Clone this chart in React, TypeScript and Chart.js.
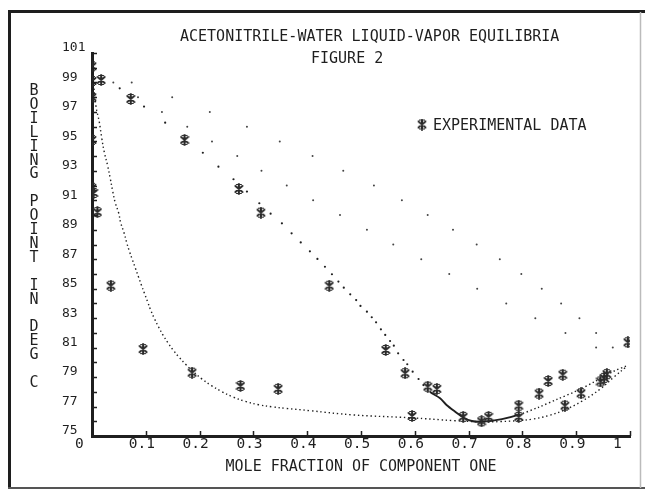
import React, { useEffect, useRef } from 'react';
import { Chart, registerables } from 'chart.js';

Chart.register(...registerables);

const TITLE = 'ACETONITRILE-WATER LIQUID-VAPOR EQUILIBRIA';
const SUBTITLE = 'FIGURE 2';
const X_TITLE = 'MOLE FRACTION OF COMPONENT ONE';
const Y_TITLE = ['B', 'O', 'I', 'L', 'I', 'N', 'G', '', 'P', 'O', 'I', 'N', 'T', '', 'I', 'N', '', 'D', 'E', 'G', '', 'C'];
const LEGEND_LABEL = 'EXPERIMENTAL DATA';

const X_MIN = 0;
const X_MAX = 1;
const X_STEP = 0.1;
const Y_MIN = 75;
const Y_MAX = 101;
const Y_STEP = 1;

// experimental data (stars)
const expX = [0.0, 0.0, 0.017, 0.0, 0.072, 0.0, 0.172, 0.0, 0.003, 0.01, 0.273, 0.314, 0.035, 0.095, 0.186, 0.276, 0.346, 0.441, 0.546, 0.582, 0.624, 0.641, 0.595, 0.69, 0.724, 0.737, 0.793, 0.793, 0.831, 0.848, 0.875, 0.879, 0.909, 0.945, 0.952, 0.957, 0.996];
const expT = [100.1, 99.1, 99.17, 98.0, 97.88, 95.1, 95.1, 91.85, 91.5, 90.2, 91.77, 90.16, 85.2, 80.9, 79.3, 78.4, 78.2, 85.2, 80.84, 79.26, 78.35, 78.2, 76.36, 76.3, 76.0, 76.3, 77.06, 76.3, 77.88, 78.73, 79.16, 77.06, 77.9, 78.7, 78.95, 79.2, 81.36];

// dew (vapour) curve
const vapX = [0, 0.0515, 0.0967, 0.136, 0.172, 0.206, 0.235, 0.263, 0.288, 0.311, 0.332, 0.353, 0.371, 0.388, 0.405, 0.419, 0.433, 0.446, 0.458, 0.468, 0.48, 0.491, 0.499, 0.511, 0.52, 0.528, 0.537, 0.545, 0.554, 0.561, 0.569, 0.579, 0.586, 0.596, 0.607, 0.616, 0.628, 0.647, 0.659, 0.675, 0.691, 0.706, 0.724, 0.762, 0.794, 0.83, 0.865, 0.9, 0.935, 0.97, 0.993];
const vapT = [100, 98.6, 97.36, 96.27, 95.1, 94.23, 93.28, 92.43, 91.59, 90.8, 90.09, 89.44, 88.76, 88.14, 87.54, 87.02, 86.49, 85.98, 85.48, 85.07, 84.62, 84.23, 83.83, 83.44, 83.06, 82.72, 82.24, 81.86, 81.45, 81.13, 80.61, 80.16, 79.87, 79.37, 78.87, 78.46, 78.0, 77.56, 77.1, 76.65, 76.24, 76.02, 75.97, 76.15, 76.45, 76.95, 77.5, 78.05, 78.7, 79.4, 79.75];

// bubble (liquid) curve
const liqX = [0, 0.0074, 0.0136, 0.018, 0.0229, 0.0292, 0.034, 0.0385, 0.0433, 0.0496, 0.0533, 0.0595, 0.0645, 0.0693, 0.0752, 0.0808, 0.0862, 0.0918, 0.0975, 0.1035, 0.109, 0.116, 0.124, 0.132, 0.141, 0.151, 0.162, 0.174, 0.188, 0.204, 0.222, 0.242, 0.262, 0.285, 0.31, 0.335, 0.362, 0.405, 0.486, 0.591, 0.675, 0.724, 0.76, 0.793, 0.82, 0.85, 0.877, 0.91, 0.945, 0.97, 0.993];
const liqT = [100, 97.4, 96.3, 95.25, 94.26, 93.33, 92.47, 91.61, 90.82, 90.14, 89.48, 88.8, 88.12, 87.56, 86.95, 86.38, 85.82, 85.25, 84.68, 84.1, 83.55, 82.97, 82.38, 81.85, 81.33, 80.83, 80.34, 79.87, 79.38, 78.88, 78.42, 78.0, 77.65, 77.35, 77.12, 76.98, 76.87, 76.72, 76.43, 76.24, 76.04, 75.97, 75.98, 76.05, 76.15, 76.4, 76.75, 77.35, 78.2, 79.0, 79.7];

// sparse dotted curves (one dot per degree)
const upperT = [100, 99, 98, 97, 96, 95, 94, 93, 92, 91, 90, 89, 88, 87, 86, 85, 84, 83, 82, 81];
const upperX = [0, 0.0738, 0.149, 0.219, 0.288, 0.349, 0.41, 0.467, 0.524, 0.576, 0.624, 0.671, 0.715, 0.758, 0.798, 0.836, 0.872, 0.906, 0.937, 0.968];
const middleT = [100, 99, 98, 97, 96, 95, 94, 93, 92, 91, 90, 89, 88, 87, 86, 85, 84, 83, 82, 81];
const middleX = [0, 0.0396, 0.0855, 0.13, 0.177, 0.223, 0.27, 0.315, 0.362, 0.411, 0.461, 0.511, 0.56, 0.612, 0.664, 0.716, 0.77, 0.824, 0.88, 0.937];

const INK = '#1f1f1f';
const FONT = '"DejaVu Sans Mono", "Liberation Mono", monospace';

const pts = (xs: number[], ys: number[]) => xs.map((x, i) => ({ x, y: ys[i] }));

function makeStar(): HTMLCanvasElement {
  const c = document.createElement('canvas');
  c.width = 10;
  c.height = 12;
  const g = c.getContext('2d')!;
  g.strokeStyle = '#2a2a2a';
  g.lineCap = 'round';
  g.lineWidth = 2;
  g.beginPath();
  g.moveTo(5, 1);
  g.lineTo(5, 11);
  g.moveTo(1.5, 3);
  g.lineTo(8.5, 9);
  g.moveTo(8.5, 3);
  g.lineTo(1.5, 9);
  g.stroke();
  g.lineWidth = 1.2;
  g.beginPath();
  g.moveTo(2.5, 1.5);
  g.lineTo(7.5, 1.5);
  g.moveTo(2.5, 10.5);
  g.lineTo(7.5, 10.5);
  g.stroke();
  return c;
}

export default function App() {
  const ref = useRef<HTMLCanvasElement | null>(null);

  useEffect(() => {
    if (!ref.current) return;
    const star = makeStar();

    const decor = {
      id: 'decor',
      beforeDraw(chart: any) {
        const { ctx, width, height } = chart;
        ctx.save();
        ctx.fillStyle = '#ffffff';
        ctx.fillRect(0, 0, width, height);
        ctx.strokeStyle = '#1e1e1e';
        ctx.lineWidth = 3;
        ctx.beginPath();
        ctx.moveTo(8, 11.5);
        ctx.lineTo(645, 11.5);
        ctx.moveTo(9.5, 10);
        ctx.lineTo(9.5, 489);
        ctx.stroke();
        ctx.lineWidth = 2;
        ctx.strokeStyle = '#555';
        ctx.beginPath();
        ctx.moveTo(8, 488);
        ctx.lineTo(645, 488);
        ctx.stroke();
        ctx.lineWidth = 1.5;
        ctx.strokeStyle = '#bbb';
        ctx.beginPath();
        ctx.moveTo(640.5, 12);
        ctx.lineTo(640.5, 488);
        ctx.stroke();
        ctx.restore();
      },
      afterDraw(chart: any) {
        const { ctx } = chart;
        const xs = chart.scales.x;
        const ys = chart.scales.y;
        ctx.save();
        ctx.strokeStyle = INK;
        ctx.lineWidth = 1.5;
        ctx.beginPath();
        ys.ticks.forEach((t: any) => {
          const py = Math.round(ys.getPixelForValue(t.value)) + 0.5;
          ctx.moveTo(xs.left, py);
          ctx.lineTo(xs.left + 5, py);
        });
        xs.ticks.forEach((t: any) => {
          const px = Math.round(xs.getPixelForValue(t.value)) + 0.5;
          ctx.moveTo(px, ys.bottom);
          ctx.lineTo(px, ys.bottom - 5);
        });
        ctx.stroke();

        ctx.fillStyle = INK;
        ctx.textBaseline = 'alphabetic';
        ctx.textAlign = 'left';
        ctx.font = `15px ${FONT}`;
        ctx.fillText(TITLE, 180, 40.5);
        ctx.fillText(SUBTITLE, 311, 62.5);
        const label = chart.data.datasets[0].label;
        ctx.drawImage(star, 422 - star.width / 2, 124.5 - star.height / 2);
        ctx.fillText(label, 433, 129.5);
        ctx.textAlign = 'center';
        Y_TITLE.forEach((ch, i) => {
          if (ch) ctx.fillText(ch, 34, 95 + i * 13.9);
        });
        ctx.restore();
      },
    };

    const chart = new Chart(ref.current, {
      type: 'scatter',
      data: {
        datasets: [
          {
            label: LEGEND_LABEL,
            data: pts(expX, expT),
            pointStyle: star as any,
            pointRadius: 5,
            showLine: false,
          },
          {
            label: 'DEW CURVE',
            data: pts(vapX, vapT),
            showLine: true,
            tension: 0.3,
            borderColor: INK,
            borderWidth: 1.8,
            pointRadius: (c: any) => (vapX[c.dataIndex] < 0.62 ? 1.1 : 0),
            pointBackgroundColor: INK,
            pointBorderWidth: 0,
            segment: {
              borderColor: (c: any) => (c.p0.parsed.x < 0.62 ? 'rgba(0,0,0,0)' : INK),
              borderDash: (c: any) => (c.p0.parsed.x >= 0.79 ? [1.4, 2.6] : undefined),
              borderWidth: (c: any) => (c.p0.parsed.x >= 0.79 ? 1.4 : 1.9),
            },
          } as any,
          {
            label: 'BUBBLE CURVE',
            data: pts(liqX, liqT),
            showLine: true,
            tension: 0.4,
            borderColor: INK,
            borderWidth: 1.4,
            borderDash: [1.4, 2.8],
            pointRadius: 0,
          } as any,
          {
            label: 'UPPER',
            data: pts(upperX, upperT),
            showLine: false,
            pointRadius: 1,
            pointBorderWidth: 0,
            pointBackgroundColor: '#444',
          },
          {
            label: 'MIDDLE',
            data: pts(middleX, middleT),
            showLine: false,
            pointRadius: 1,
            pointBorderWidth: 0,
            pointBackgroundColor: '#444',
          },
        ],
      },
      options: {
        animation: false,
        responsive: false,
        devicePixelRatio: 1,
        layout: { padding: { left: 62, right: 15, top: 53, bottom: 12 } },
        plugins: {
          legend: { display: false },
          tooltip: { enabled: false },
          title: { display: false },
        },
        scales: {
          x: {
            type: 'linear',
            position: 'bottom',
            min: X_MIN,
            max: X_MAX,
            grid: { display: false, drawTicks: false },
            border: { display: true, width: 3, color: INK },
            ticks: {
              stepSize: X_STEP,
              autoSkip: false,
              maxRotation: 0,
              align: 'start',
              labelOffset: -17,
              padding: 0,
              color: INK,
              font: { family: FONT, size: 14.5 },
              callback: (v: any) => {
                const n = Number(v);
                if (Math.abs(n) < 1e-9) return '0';
                if (Math.abs(n - 1) < 1e-9) return '1';
                return n.toFixed(1);
              },
            },
            title: {
              display: true,
              text: X_TITLE,
              color: INK,
              font: { family: FONT, size: 15 },
              padding: { top: 0, bottom: 4 },
            },
            afterFit: (s: any) => {
              s.height = 44;
            },
          },
          y: {
            type: 'linear',
            min: Y_MIN,
            max: Y_MAX,
            grid: { display: false, drawTicks: false },
            border: { display: true, width: 3, color: INK },
            ticks: {
              stepSize: Y_STEP,
              autoSkip: false,
              crossAlign: 'far',
              labelOffset: -5,
              padding: 0,
              color: INK,
              font: { family: FONT, size: 13 },
              callback: (v: any) => {
                const n = Math.round(Number(v));
                return (n - Y_MIN) % 2 === 0 ? String(n) : '';
              },
            },
            afterFit: (s: any) => {
              s.width = 30;
            },
          },
        },
      } as any,
      plugins: [decor],
    });
    return () => chart.destroy();
  }, []);

  return (
    <div style={{ position: 'absolute', left: 0, top: 0, width: 645, height: 492 }}>
      <canvas ref={ref} width={645} height={492} style={{ display: 'block' }} />
    </div>
  );
}
